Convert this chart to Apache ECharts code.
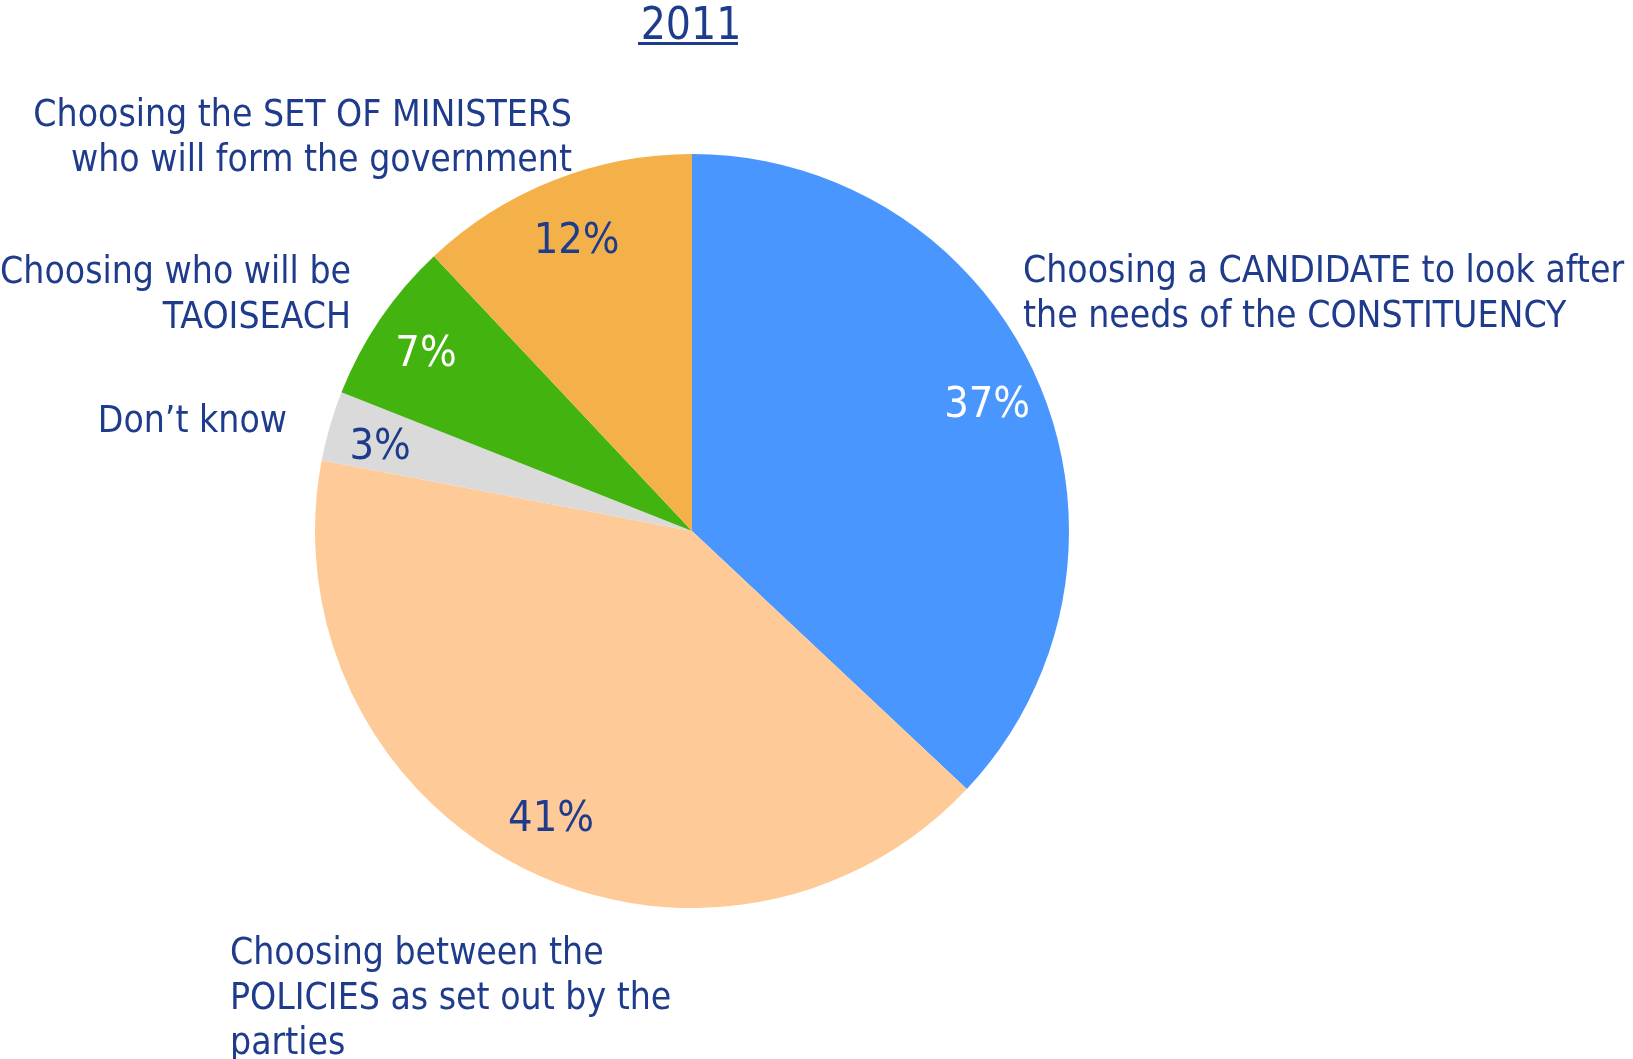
<!DOCTYPE html>
<html>
<head>
<meta charset="utf-8">
<script src="https://cdn.jsdelivr.net/npm/echarts@6/dist/echarts.min.js"></script>
<style>
html,body{margin:0;padding:0;background:#fff;}
#chart{width:1633px;height:1059px;}
</style>
</head>
<body>
<div id="chart"></div>
<script>
const title = '2011';
const categories = [
  'Choosing a CANDIDATE to look after\nthe needs of the CONSTITUENCY',
  'Choosing between the\nPOLICIES as set out by the\nparties',
  'Don\u2019t know',
  'Choosing who will be\nTAOISEACH',
  'Choosing the SET OF MINISTERS\nwho will form the government'
];
const values = [37, 41, 3, 7, 12];

const colors = ['#4a96ff', '#fecb98', '#dadada', '#42b30f', '#f4b14a'];
const pctColors = ['#ffffff', '#1f3c8c', '#1f3c8c', '#ffffff', '#1f3c8c'];
const textColor = '#1f3c8c';
const FONT = '"DejaVu Sans Condensed", "DejaVu Sans", sans-serif';

// layout for outer category labels (x, y of first line top, align)
const outerLayout = [
  {x: 1023, y: 250, align: 'left'},
  {x: 230, y: 932, align: 'left'},
  {x: 287, y: 400, align: 'right'},
  {x: 351, y: 251, align: 'right'},
  {x: 572, y: 94, align: 'right'}
];
// small nudges for inside percentage labels
const pctOffsets = [[0, 3], [5, 2], [-3, 7], [0, 5], [3, 10]];

const center = [692, 531];
const R = 377;

const chart = echarts.init(document.getElementById('chart'), null, {renderer: 'canvas'});
chart.setOption({
  animation: false,
  backgroundColor: '#ffffff',
  title: {
    text: title,
    left: 686,
    top: 1,
    textAlign: 'center',
    textStyle: {color: textColor, fontFamily: FONT, fontSize: 44, fontWeight: 'normal'}
  },
  graphic: [{
    type: 'rect',
    shape: {x: 638, y: 42, width: 100, height: 3},
    style: {fill: textColor}
  }],
  series: [
    {
      type: 'pie',
      center: center,
      radius: R,
      startAngle: 90,
      clockwise: true,
      avoidLabelOverlap: false,
      silent: true,
      itemStyle: {borderWidth: 0},
      data: categories.map((c, i) => ({name: c, value: values[i], itemStyle: {color: colors[i]}})),
      label: {
        show: true,
        position: 'outside',
        formatter: '{b}',
        color: textColor,
        fontFamily: FONT,
        fontSize: 37,
        lineHeight: 45
      },
      labelLine: {show: false},
      labelLayout: function (p) {
        const l = outerLayout[p.dataIndex];
        return {x: l.x, y: l.y, align: l.align, verticalAlign: 'top', hideOverlap: false, moveOverlap: null};
      }
    },
    {
      type: 'pie',
      center: center,
      radius: [R * 0.69, R],
      startAngle: 90,
      clockwise: true,
      avoidLabelOverlap: false,
      silent: true,
      itemStyle: {color: 'rgba(0,0,0,0)'},
      data: categories.map((c, i) => ({
        name: c, value: values[i],
        label: {color: pctColors[i], offset: pctOffsets[i]}
      })),
      label: {
        show: true,
        position: 'inside',
        formatter: '{c}%',
        fontFamily: FONT,
        fontSize: 43
      },
      labelLine: {show: false}
    }
  ]
});
</script>
</body>
</html>
